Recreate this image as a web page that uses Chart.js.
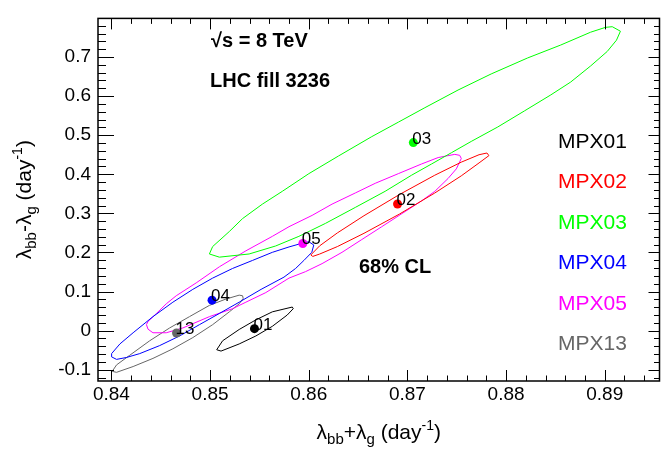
<!DOCTYPE html>
<html>
<head>
<meta charset="utf-8">
<script src="https://cdn.jsdelivr.net/npm/chart.js@4.4.0/dist/chart.umd.min.js"></script>
<style>
  html, body { margin: 0; padding: 0; background: #fff; }
</style>
</head>
<body>
<canvas id="chart" width="664" height="449"></canvas>
<script>
// axis ticks
const xTicks = [0.84, 0.85, 0.86, 0.87, 0.88, 0.89];
const yTicks = [-0.1, 0, 0.1, 0.2, 0.3, 0.4, 0.5, 0.6, 0.7];

// detectors and best-fit points
const detectors = ['MPX01', 'MPX02', 'MPX03', 'MPX04', 'MPX05', 'MPX13'];
const pointLabels = ['01', '02', '03', '04', '05', '13'];
const bestX = [0.8545, 0.8690, 0.8706, 0.8502, 0.8594, 0.8466];
const bestY = [0.005, 0.324, 0.481, 0.078, 0.223, -0.006];

// 68% CL contours
const contour01X = [0.85833, 0.85631, 0.85464, 0.85295, 0.85127, 0.85067, 0.85111, 0.85295, 0.85464, 0.85631, 0.85782, 0.85843];
const contour01Y = [0.0604, 0.0481, 0.0276, 0.0030, -0.0259, -0.0488, -0.0523, -0.0340, -0.0136, 0.0111, 0.0400, 0.0562];

const contour02X = [0.86021, 0.86111, 0.86290, 0.86560, 0.86918, 0.87277, 0.87546, 0.87726, 0.87806, 0.87826, 0.87726, 0.87546, 0.87277, 0.86918, 0.86560, 0.86290, 0.86111, 0.86041];
const contour02Y = [0.1936, 0.2170, 0.2500, 0.2940, 0.3480, 0.3975, 0.4310, 0.4500, 0.4544, 0.4477, 0.4290, 0.3960, 0.3520, 0.2980, 0.2490, 0.2150, 0.1960, 0.1899];

const contour03X = [0.85026, 0.85195, 0.85329, 0.85530, 0.85732, 0.86001, 0.86303, 0.86639, 0.86908, 0.87177, 0.87513, 0.87849, 0.88219, 0.88554, 0.88857, 0.89008, 0.89076, 0.89159, 0.89119, 0.89025, 0.88857, 0.88655, 0.88454, 0.88185, 0.87916, 0.87647, 0.87446, 0.87244, 0.87042, 0.86774, 0.86472, 0.86169, 0.85900, 0.85665, 0.85396, 0.85094, 0.84993];
const contour03Y = [0.2151, 0.2536, 0.2866, 0.3236, 0.3564, 0.4016, 0.4470, 0.4963, 0.5333, 0.5703, 0.6154, 0.6566, 0.6976, 0.7306, 0.7634, 0.7758, 0.7775, 0.7659, 0.7430, 0.7141, 0.6771, 0.6359, 0.6031, 0.5619, 0.5210, 0.4840, 0.4551, 0.4262, 0.3976, 0.3564, 0.3152, 0.2743, 0.2412, 0.2166, 0.1961, 0.1880, 0.1961];

const contour04X = [0.84002, 0.84086, 0.84220, 0.84421, 0.84623, 0.84825, 0.85026, 0.85228, 0.85430, 0.85631, 0.85800, 0.85917, 0.86001, 0.86051, 0.86031, 0.85951, 0.85867, 0.85749, 0.85517, 0.85295, 0.85094, 0.84892, 0.84691, 0.84489, 0.84287, 0.84153, 0.84052, 0.84002];
const contour04Y = [-0.0587, -0.0340, -0.0054, 0.0358, 0.0728, 0.1056, 0.1344, 0.1591, 0.1796, 0.2003, 0.2141, 0.2225, 0.2274, 0.2190, 0.2003, 0.1796, 0.1591, 0.1369, 0.1056, 0.0728, 0.0439, 0.0153, -0.0136, -0.0382, -0.0587, -0.0686, -0.0735, -0.0671];

const contour05X = [0.87480, 0.87312, 0.87143, 0.86908, 0.86674, 0.86472, 0.86236, 0.86034, 0.85800, 0.85631, 0.85363, 0.85094, 0.84859, 0.84657, 0.84556, 0.84456, 0.84371, 0.84355, 0.84371, 0.84421, 0.84556, 0.84724, 0.84993, 0.85228, 0.85363, 0.85565, 0.85800, 0.85968, 0.86135, 0.86337, 0.86538, 0.86740, 0.86942, 0.87143, 0.87278, 0.87412, 0.87496, 0.87546, 0.87530];
const contour05Y = [0.4509, 0.4428, 0.4263, 0.4016, 0.3769, 0.3522, 0.3236, 0.2948, 0.2659, 0.2412, 0.2042, 0.1633, 0.1221, 0.0893, 0.0686, 0.0439, 0.0234, 0.0153, 0.0037, -0.0054, -0.0054, 0.0069, 0.0358, 0.0562, 0.0728, 0.0974, 0.1344, 0.1510, 0.1714, 0.2003, 0.2331, 0.2659, 0.2990, 0.3318, 0.3564, 0.3892, 0.4139, 0.4403, 0.4484];

const contour13X = [0.85329, 0.85295, 0.85161, 0.84993, 0.84791, 0.84590, 0.84388, 0.84186, 0.84052, 0.84008, 0.84052, 0.84220, 0.84421, 0.84623, 0.84825, 0.85026, 0.85195, 0.85295, 0.85336];
const contour13Y = [0.0893, 0.0908, 0.0809, 0.0646, 0.0358, 0.0069, -0.0259, -0.0629, -0.0876, -0.1041, -0.1066, -0.0918, -0.0710, -0.0464, -0.0178, 0.0153, 0.0481, 0.0686, 0.0826];

const contours = [
    [contour01X, contour01Y], [contour02X, contour02Y], [contour03X, contour03Y],
    [contour04X, contour04Y], [contour05X, contour05Y], [contour13X, contour13Y]
];

const colors = ['#000000', '#ff0000', '#00ff00', '#0000ff', '#ff00ff', '#666666'];
const FONT = "'Liberation Sans', Arial, Helvetica, sans-serif";

// Build datasets: points first so they are drawn on top
const datasets = [];
detectors.forEach((name, i) => {
    datasets.push({
        label: name,
        data: [{ x: bestX[i], y: bestY[i] }],
        pointRadius: 4.5,
        pointBackgroundColor: colors[i],
        pointBorderWidth: 0,
        showLine: false
    });
});
contours.forEach((c, i) => {
    const pts = c[0].map((x, k) => ({ x: x, y: c[1][k] }));
    pts.push(pts[0]);
    datasets.push({
        label: detectors[i] + ' contour',
        data: pts,
        showLine: true,
        borderColor: colors[i],
        borderWidth: 1,
        pointRadius: 0,
        fill: false,
        tension: 0
    });
});

// text with sub/superscripts: [text, size, shift]
function drawRich(ctx, parts, x, y) {
    let total = 0;
    parts.forEach(p => { ctx.font = p[1] + 'px ' + FONT; total += ctx.measureText(p[0]).width; });
    let cx = x - total / 2;
    parts.forEach(p => {
        ctx.font = p[1] + 'px ' + FONT;
        ctx.fillText(p[0], cx, y + p[2]);
        cx += ctx.measureText(p[0]).width;
    });
}

function titleParts(sign) {
    return [['λ', 21, 0], ['bb', 15, 5], [sign + 'λ', 21, 0], ['g', 15, 5], [' (day', 21, 0], ['-1', 14, -9], [')', 21, 0]];
}

// Frame with inward ticks on all four sides
const frameTicks = {
    id: 'frameTicks',
    afterDatasetsDraw(chart) {
        const { ctx, chartArea: a, scales: { x, y } } = chart;
        ctx.save();
        ctx.strokeStyle = '#000';
        ctx.lineWidth = 1;
        ctx.beginPath();
        for (let k = Math.ceil(x.min / 0.002 - 1e-6); k * 0.002 <= x.max + 1e-9; k++) {
            const px = Math.round(x.getPixelForValue(k * 0.002)) + 0.5;
            const len = k % 5 === 0 ? 11 : 5.5;
            ctx.moveTo(px, a.bottom); ctx.lineTo(px, a.bottom - len);
            ctx.moveTo(px, a.top); ctx.lineTo(px, a.top + len);
        }
        for (let k = Math.ceil(y.min / 0.02 - 1e-6); k * 0.02 <= y.max + 1e-9; k++) {
            const py = Math.round(y.getPixelForValue(k * 0.02)) + 0.5;
            const major = ((k % 5) + 5) % 5 === 0;
            ctx.moveTo(a.left, py); ctx.lineTo(a.left + (major ? 16 : 8), py);
            ctx.moveTo(a.right, py); ctx.lineTo(a.right - (major ? 11 : 5.5), py);
        }
        ctx.stroke();
        ctx.lineWidth = 1.5;
        ctx.strokeRect(a.left, a.top, a.right - a.left, a.bottom - a.top);
        ctx.restore();
    },
    afterDraw(chart) {
        const { ctx, chartArea: a } = chart;
        ctx.save();
        ctx.fillStyle = '#000';
        ctx.textBaseline = 'alphabetic';
        ctx.textAlign = 'left';

        // labels next to best-fit points
        ctx.font = '17px ' + FONT;
        detectors.forEach((name, i) => {
            const el = chart.getDatasetMeta(i).data[0];
            ctx.fillText(pointLabels[i], el.x - 1, el.y + 1);
        });

        // annotations
        ctx.font = 'bold 20px ' + FONT;
        ctx.fillText('√s = 8 TeV', 211, 47);
        ctx.fillText('LHC fill 3236', 210, 87);
        ctx.fillText('68% CL', 359, 273);

        // detector legend
        ctx.font = '21px ' + FONT;
        detectors.forEach((name, i) => {
            ctx.fillStyle = colors[i];
            ctx.fillText(name, 558, 147.5 + i * 40.5);
        });

        // axis titles
        ctx.fillStyle = '#000';
        drawRich(ctx, titleParts('+'), (a.left + a.right) / 2, 439);
        ctx.translate(31, (a.top + a.bottom) / 2);
        ctx.rotate(-Math.PI / 2);
        drawRich(ctx, titleParts('-'), 0, 0);
        ctx.restore();
    }
};

new Chart(document.getElementById('chart'), {
    type: 'scatter',
    data: { datasets: datasets },
    options: {
        responsive: false,
        animation: false,
        events: [],
        layout: { padding: { top: 6, right: 2, left: 0, bottom: 0 } },
        plugins: { legend: { display: false }, tooltip: { enabled: false } },
        scales: {
            x: {
                type: 'linear',
                min: 0.83864,
                max: 0.89555,
                grid: { display: false, drawTicks: false },
                border: { display: false },
                afterBuildTicks: s => { s.ticks = xTicks.map(v => ({ value: v })); },
                afterFit: s => { s.height = 68; },
                ticks: {
                    font: { family: FONT, size: 19 },
                    color: '#000',
                    padding: 2,
                    maxRotation: 0,
                    autoSkip: false,
                    callback: v => String(v)
                }
            },
            y: {
                type: 'linear',
                min: -0.1288,
                max: 0.7987,
                grid: { display: false, drawTicks: false },
                border: { display: false },
                afterBuildTicks: s => { s.ticks = yTicks.map(v => ({ value: v })); },
                afterFit: s => { s.width = 98; },
                ticks: {
                    font: { family: FONT, size: 19 },
                    color: '#000',
                    padding: 7,
                    autoSkip: false,
                    callback: v => String(v)
                }
            }
        }
    },
    plugins: [frameTicks]
});
</script>
</body>
</html>
